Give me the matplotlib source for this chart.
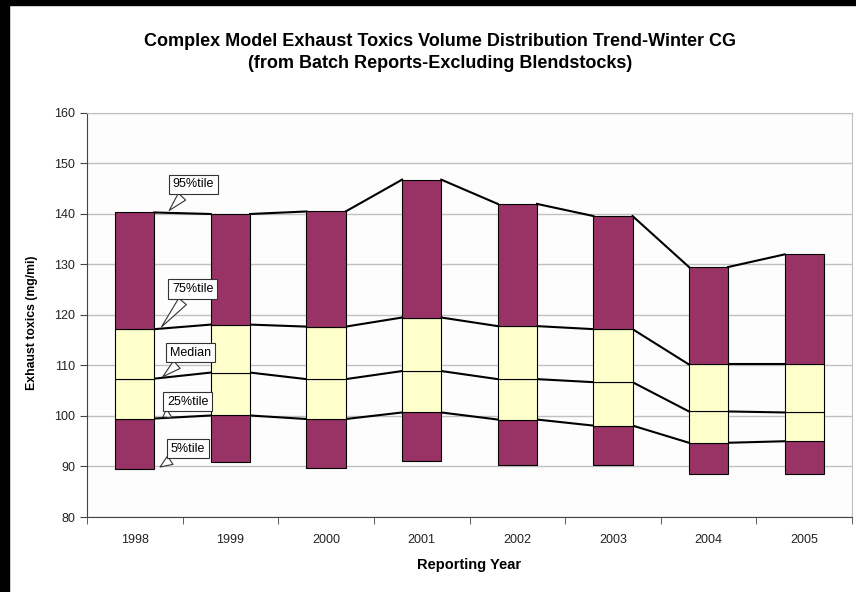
import matplotlib.pyplot as plt
import numpy as np
from matplotlib.patches import Rectangle

plt.rcParams["font.family"] = ["Liberation Sans", "DejaVu Sans"]

# data (mg/mi)
years = ["1998", "1999", "2000", "2001", "2002", "2003", "2004", "2005"]
p5 = [89.6, 90.9, 89.8, 91.0, 90.3, 90.3, 88.5, 88.5]
p25 = [99.5, 100.1, 99.4, 100.7, 99.3, 98.1, 94.7, 95.0]
median = [107.4, 108.6, 107.3, 108.9, 107.3, 106.7, 100.9, 100.7]
p75 = [117.2, 118.1, 117.7, 119.5, 117.8, 117.2, 110.2, 110.2]
p95 = [140.3, 140.0, 140.5, 146.8, 142.0, 139.6, 129.5, 132.0]

purple = "#993366"
cream = "#ffffcc"

fig = plt.figure(figsize=(8.56, 5.92), dpi=100)
fig.patch.set_facecolor("white")
ax = fig.add_axes([87 / 856, 1 - 517 / 592, 765 / 856, 404 / 592])

x = np.arange(len(years))
w = 0.41

# stacked boxes: 5-25 purple, 25-median & median-75 cream, 75-95 purple
segments = [(p5, p25, purple), (p25, median, cream), (median, p75, cream), (p75, p95, purple)]
for lo, hi, col in segments:
    lo = np.array(lo)
    hi = np.array(hi)
    ax.bar(x, hi - lo, w, bottom=lo, color=col, edgecolor="black", linewidth=0.8, zorder=3)

# series lines between bar edges
for series in [p25, median, p75, p95]:
    for i in range(len(x) - 1):
        ax.plot([x[i] + w / 2, x[i + 1] - w / 2], [series[i], series[i + 1]],
                color="black", lw=1.5, zorder=2)

ax.set_xlim(-0.5, len(years) - 0.5)
ax.set_ylim(80, 160)
ax.set_yticks(np.arange(80, 161, 10))
ax.set_xticks(x)
ax.set_xticklabels(years)
ax.set_xticks(np.arange(-0.5, len(years), 1), minor=True)
ax.tick_params(axis="x", which="major", length=0, pad=12, labelsize=9, labelcolor="#222222")
ax.tick_params(axis="x", which="minor", length=5, direction="out", color="#444444")
ax.tick_params(axis="y", length=5, direction="out", labelsize=9, labelcolor="#222222", color="#444444")
ax.yaxis.grid(True, color="#c0c0c0", lw=1.0)
ax.set_axisbelow(True)
ax.set_facecolor("#fdfdfd")
for s in ["top", "right"]:
    ax.spines[s].set_color("#c0c0c0")
for s in ["left", "bottom"]:
    ax.spines[s].set_color("#444444")

ax.set_xlabel("Reporting Year", fontsize=10.5, fontweight="bold", labelpad=9)
ax.set_ylabel("Exhaust toxics (mg/mi)", fontsize=8.8, fontweight="bold")
ax.yaxis.set_label_coords(-0.064, 0.48)

fig.text(0.514, 1 - 41 / 592, "Complex Model Exhaust Toxics Volume Distribution Trend-Winter CG",
         ha="center", va="center", fontsize=13, fontweight="bold")
fig.text(0.514, 1 - 64 / 592, "(from Batch Reports-Excluding Blendstocks)",
         ha="center", va="center", fontsize=13, fontweight="bold")

# callout labels pointing at the 1998 values
callouts = [("95%tile", 0.34, p95[0], 26, 28),
            ("75%tile", 0.26, p75[0], 33, 40),
            ("Median", 0.27, median[0], 30, 26),
            ("25%tile", 0.27, p25[0], 27, 17),
            ("5%tile", 0.24, p5[0], 30, 20)]
for txt, xt, yt, dx, dy in callouts:
    ax.annotate(txt, xy=(xt, yt), xytext=(dx, dy), textcoords="offset pixels",
                ha="center", va="center", fontsize=9, zorder=5,
                bbox=dict(boxstyle="square,pad=0.3", fc="white", ec="#333333", lw=0.8),
                arrowprops=dict(arrowstyle="wedge,tail_width=0.8", fc="white", ec="#333333", lw=0.8))

# black frame pieces at left and top of the screenshot
fig.add_artist(Rectangle((0, 0), 9 / 856, 1, transform=fig.transFigure, color="black"))
fig.add_artist(Rectangle((0, 1 - 5 / 592), 1, 5 / 592, transform=fig.transFigure, color="black"))

fig.savefig("out.png", dpi=100)
